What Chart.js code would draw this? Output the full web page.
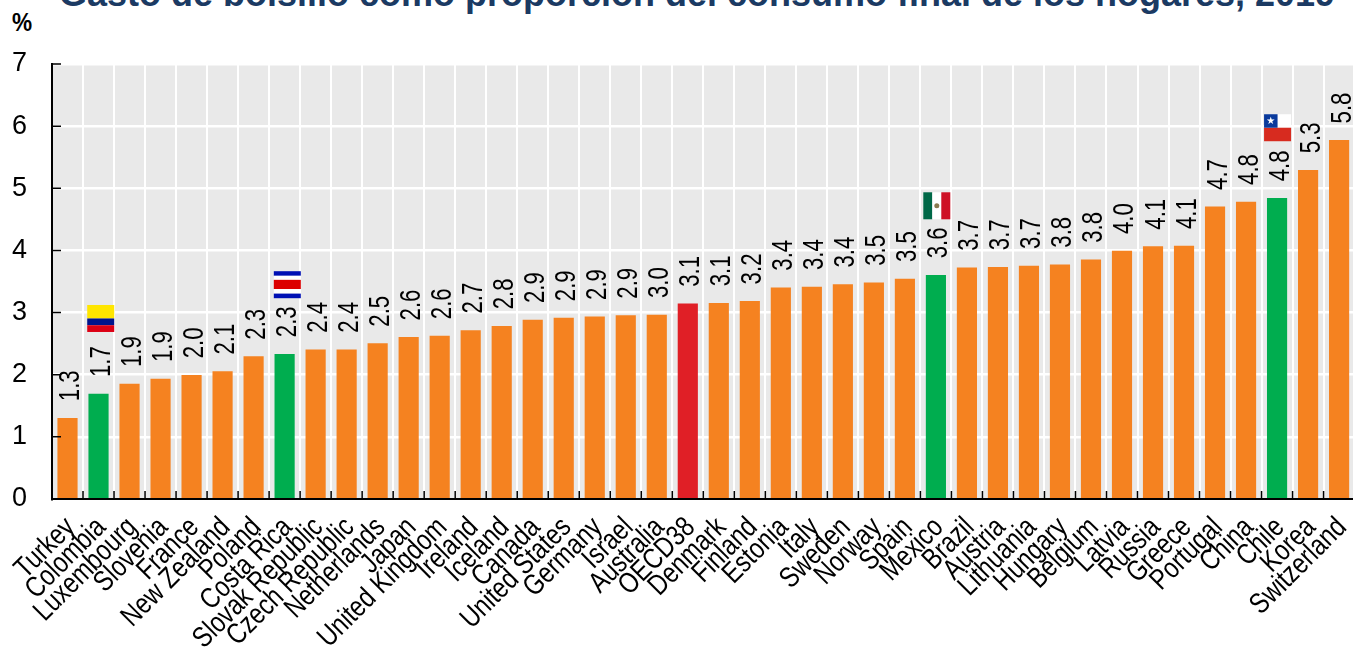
<!DOCTYPE html>
<html>
<head>
<meta charset="utf-8">
<script src="https://cdn.jsdelivr.net/npm/chart.js@4"></script>
<style>
  html, body { margin: 0; padding: 0; background: #fff; width: 1353px; height: 648px; overflow: hidden; }
  #wrap { position: relative; width: 1353px; height: 648px; overflow: hidden; }
  canvas { position: absolute; left: 0; top: 0; }
  #title { position: absolute; left: 0; width: 1394px; top: -27px; text-align: center; white-space: nowrap;
           font: bold 36px "Liberation Sans", Arial, sans-serif; color: #1b3a63; }
  #unit { position: absolute; left: 12px; top: 7px; font: bold 26px "Liberation Sans", Arial, sans-serif; color: #000;
          transform: scaleX(0.87); transform-origin: left top; }
</style>
</head>
<body>
<div id="wrap">
  <div id="title">Gasto de bolsillo como proporción del consumo final de los hogares, 2019</div>
  <div id="unit">%</div>
  <canvas id="chart" width="1356" height="648"></canvas>
</div>
<script>
// Datos
const countries = ['Turkey','Colombia','Luxembourg','Slovenia','France','New Zealand','Poland','Costa Rica',
  'Slovak Republic','Czech Republic','Netherlands','Japan','United Kingdom','Ireland','Iceland','Canada',
  'United States','Germany','Israel','Australia','OECD38','Denmark','Finland','Estonia','Italy','Sweden',
  'Norway','Spain','Mexico','Brazil','Austria','Lithuania','Hungary','Belgium','Latvia','Russia','Greece',
  'Portugal','China','Chile','Korea','Switzerland'];
const values = [1.30,1.69,1.85,1.93,1.99,2.05,2.29,2.33,2.40,2.40,2.50,2.60,2.62,2.71,2.78,2.88,2.91,2.93,2.95,2.96,
  3.14,3.15,3.18,3.40,3.41,3.45,3.48,3.54,3.60,3.72,3.73,3.75,3.77,3.85,3.99,4.06,4.07,4.70,4.78,4.84,5.29,5.77];
const valueLabels = ['1.3','1.7','1.9','1.9','2.0','2.1','2.3','2.3','2.4','2.4','2.5','2.6','2.6','2.7','2.8','2.9',
  '2.9','2.9','2.9','3.0','3.1','3.1','3.2','3.4','3.4','3.4','3.5','3.5','3.6','3.7','3.7','3.7','3.8','3.8','4.0',
  '4.1','4.1','4.7','4.8','4.8','5.3','5.8'];
const greenBars = ['Colombia','Costa Rica','Mexico','Chile'];
const redBars = ['OECD38'];

const barColors = countries.map(c => {
  if (redBars.includes(c)) return '#e01f26';
  if (greenBars.includes(c)) return '#00ad4f';
  return '#f58220';
});

// Etiquetas de valor giradas encima de cada barra
const valueLabelPlugin = {
  id: 'valueLabels',
  afterDatasetsDraw(chart) {
    const ctx = chart.ctx;
    const bars = chart.getDatasetMeta(0).data;
    ctx.save();
    ctx.fillStyle = '#000';
    ctx.font = '30px "Liberation Sans", Arial, sans-serif';
    ctx.textAlign = 'left';
    ctx.textBaseline = 'alphabetic';
    bars.forEach((bar, i) => {
      ctx.save();
      ctx.translate(bar.x + 11.5, bar.y - 17);
      ctx.rotate(-Math.PI / 2);
      ctx.scale(0.74, 1);
      ctx.fillText(valueLabels[i], 0, 0);
      ctx.restore();
    });
    ctx.restore();
  }
};

// Nombres de países a 45 grados, algo estrechos como en el original
const categoryLabelPlugin = {
  id: 'categoryLabels',
  afterDraw(chart) {
    const ctx = chart.ctx;
    const x = chart.scales.x;
    ctx.save();
    ctx.fillStyle = '#000';
    ctx.font = '29px "Liberation Sans", Arial, sans-serif';
    ctx.textAlign = 'right';
    ctx.textBaseline = 'middle';
    countries.forEach((name, i) => {
      ctx.save();
      ctx.translate(x.getPixelForValue(i) + 3, chart.chartArea.bottom + 24);
      ctx.rotate(-Math.PI / 4);
      ctx.scale(0.82, 1);
      ctx.fillText(name, 0, 0);
      ctx.restore();
    });
    ctx.restore();
  }
};

// Marcas de los ejes hacia dentro
const innerTicksPlugin = {
  id: 'innerTicks',
  afterDatasetsDraw(chart) {
    const ctx = chart.ctx;
    const x = chart.scales.x, y = chart.scales.y, chartArea = chart.chartArea;
    ctx.save();
    ctx.strokeStyle = '#000';
    ctx.lineWidth = 1.5;
    ctx.beginPath();
    y.ticks.forEach(t => {
      const py = y.getPixelForValue(t.value);
      ctx.moveTo(chartArea.left, py);
      ctx.lineTo(chartArea.left + 9, py);
    });
    for (let i = 1; i < countries.length; i++) {
      const px = (x.getPixelForValue(i - 1) + x.getPixelForValue(i)) / 2;
      ctx.moveTo(px, chartArea.bottom);
      ctx.lineTo(px, chartArea.bottom - 8);
    }
    ctx.stroke();
    ctx.restore();
  }
};

// Banderas sobre las barras verdes
function drawFlag(ctx, name, l, t, w, h) {
  const stripes = (cols) => {
    cols.forEach(([from, to, color]) => {
      ctx.fillStyle = color;
      ctx.fillRect(l, t + h * from, w, h * (to - from));
    });
  };
  if (name === 'Colombia') {
    stripes([[0, 0.5, '#ffe600'], [0.5, 0.75, '#00148c'], [0.75, 1, '#dc0014']]);
  } else if (name === 'Costa Rica') {
    stripes([[0, 0.17, '#0010b4'], [0.17, 0.32, '#ffffff'], [0.32, 0.66, '#dc0000'], [0.66, 0.83, '#ffffff'], [0.83, 1, '#0010b4']]);
  } else if (name === 'Mexico') {
    ctx.fillStyle = '#006847'; ctx.fillRect(l, t, w / 3, h);
    ctx.fillStyle = '#ffffff'; ctx.fillRect(l + w / 3, t, w / 3, h);
    ctx.fillStyle = '#ce1126'; ctx.fillRect(l + 2 * w / 3, t, w / 3, h);
    ctx.fillStyle = '#8a7a50';
    ctx.beginPath(); ctx.arc(l + w / 2, t + h / 2, 2.5, 0, Math.PI * 2); ctx.fill();
  } else if (name === 'Chile') {
    stripes([[0, 0.5, '#ffffff'], [0.5, 1, '#d72b1f']]);
    ctx.fillStyle = '#0a3a9c'; ctx.fillRect(l, t, h / 2, h / 2);
    ctx.fillStyle = '#ffffff';
    ctx.font = '10px "DejaVu Sans", sans-serif';
    ctx.textAlign = 'center';
    ctx.textBaseline = 'middle';
    ctx.fillText('★', l + h / 4, t + h / 4);
  }
}
const flagGap = { 'Colombia': 62, 'Costa Rica': 56, 'Mexico': 56, 'Chile': 57 };
const flagShift = { 'Colombia': 11.3, 'Costa Rica': 10.8, 'Mexico': 12.6, 'Chile': 13 };
const flagPlugin = {
  id: 'flags',
  afterDatasetsDraw(chart) {
    const ctx = chart.ctx;
    const bars = chart.getDatasetMeta(0).data;
    Object.keys(flagGap).forEach(name => {
      const bar = bars[countries.indexOf(name)];
      ctx.save();
      drawFlag(ctx, name, bar.x - flagShift[name], bar.y - flagGap[name] - 27, 27, 27);
      ctx.restore();
    });
  }
};

new Chart(document.getElementById('chart').getContext('2d'), {
  type: 'bar',
  data: {
    labels: countries,
    datasets: [{
      data: values,
      backgroundColor: barColors,
      barThickness: 19.5,
      borderWidth: 0
    }]
  },
  options: {
    responsive: false,
    animation: false,
    layout: { autoPadding: false, padding: { top: 64, right: 1.4, left: 0, bottom: 0 } },
    plugins: { legend: { display: false }, tooltip: { enabled: false } },
    scales: {
      x: {
        afterFit: s => { s.height = 149; s.paddingLeft = 0; s.paddingRight = 0; },
        grid: { color: '#ffffff', lineWidth: 2, drawTicks: false, offset: true },
        border: { display: true, color: '#000', width: 2 },
        ticks: { display: false, autoSkip: false }
      },
      y: {
        min: 0, max: 7,
        afterFit: s => { s.width = 52; },
        grid: { color: '#ffffff', lineWidth: 2.5, drawTicks: false },
        border: { display: true, color: '#000', width: 2 },
        ticks: {
          stepSize: 1, color: '#000', padding: 25,
          font: { family: '"Liberation Sans", Arial, sans-serif', size: 27 }
        }
      }
    }
  },
  plugins: [
    { id: 'plotBackground', beforeDraw(chart) {
        const a = chart.chartArea;
        chart.ctx.fillStyle = '#e9e9e9';
        chart.ctx.fillRect(a.left, a.top, a.right - a.left, a.bottom - a.top);
    } },
    valueLabelPlugin, categoryLabelPlugin, innerTicksPlugin, flagPlugin
  ]
});
</script>
</body>
</html>
